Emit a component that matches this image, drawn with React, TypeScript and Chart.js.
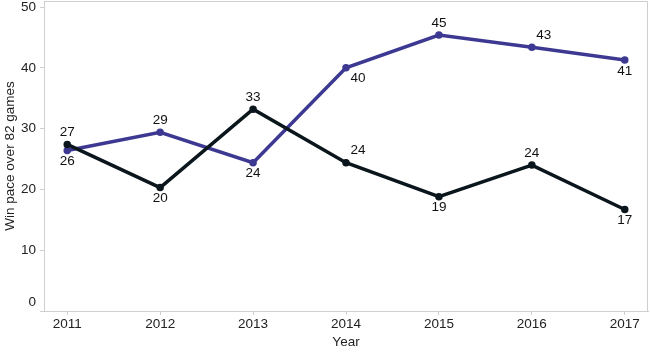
import React, { useEffect, useRef } from "react";
import { Chart, registerables } from "chart.js";

Chart.register(...registerables);

const years = [2011, 2012, 2013, 2014, 2015, 2016, 2017];
const blackSeries = [27.4, 20.3, 33.2, 24.4, 18.8, 24.0, 16.7];
const purpleSeries = [26.4, 29.4, 24.4, 40.0, 45.4, 43.4, 41.3];
const yTicks = [0, 10, 20, 30, 40, 50];

// label placement styles (not data)
const blackPlace = ["above", "below", "above", "aboveRight", "below", "above", "below"];
const purplePlace = ["below", "above", "below", "belowRight", "above", "aboveRight", "below"];

const FONT = "'Liberation Sans', Arial, sans-serif";

export default function App() {
  const ref = useRef<HTMLCanvasElement | null>(null);
  useEffect(() => {
    document.body.style.margin = "0";
    const canvas = ref.current!;
    const labelPlugin = {
      id: "labels",
      beforeDatasetsDraw(chart: any) {
        const { ctx, chartArea: a } = chart;
        ctx.save();
        ctx.strokeStyle = "#cfcfcf";
        ctx.lineWidth = 1;
        ctx.beginPath();
        ctx.moveTo(a.left, a.top + 0.5);
        ctx.lineTo(a.right - 0.5, a.top + 0.5);
        ctx.lineTo(a.right - 0.5, a.bottom);
        ctx.stroke();
        ctx.restore();
      },
      afterDatasetsDraw(chart: any) {
        const { ctx, chartArea: a } = chart;
        ctx.save();
        ctx.font = `13.5px ${FONT}`;
        ctx.fillStyle = "#111";
        ctx.textAlign = "center";
        ctx.textBaseline = "middle";
        const places = [blackPlace, purplePlace];
        chart.data.datasets.forEach((ds: any, di: number) => {
          const meta = chart.getDatasetMeta(di);
          meta.data.forEach((pt: any, i: number) => {
            const v = ds.data[i].y;
            const p = places[di][i];
            let dx = 0, dy = 0;
            if (p === "above") dy = -12;
            else if (p === "below") dy = 11;
            else if (p === "aboveRight") { dx = 12; dy = -12; }
            else if (p === "belowRight") { dx = 12; dy = 10; }
            ctx.fillText(String(Math.round(v)), pt.x + dx, pt.y + dy);
          });
        });
        // shifted bottom y tick label
        const ys = chart.scales.y;
        ctx.textAlign = "right";
        ctx.fillStyle = "#222";
        ctx.font = `13.5px ${FONT}`;
        ctx.fillText("0", ys.right - 8, a.bottom - 9);
        ctx.restore();
      },
    };
    const chart = new Chart(canvas, {
      type: "line",
      data: {
        datasets: [
          {
            label: "Black",
            data: years.map((x, i) => ({ x, y: blackSeries[i] })),
            borderColor: "#0b161c",
            backgroundColor: "#0b161c",
            borderWidth: 3.5,
            pointRadius: 2,
            pointHoverRadius: 2,
            tension: 0,
          },
          {
            label: "Purple",
            data: years.map((x, i) => ({ x, y: purpleSeries[i] })),
            borderColor: "#3d3992",
            backgroundColor: "#3d3992",
            borderWidth: 3.5,
            pointRadius: 2,
            pointHoverRadius: 2,
            tension: 0,
          },
        ],
      },
      options: {
        animation: false,
        responsive: false,
        maintainAspectRatio: false,
        layout: { autoPadding: false, padding: { top: 1, right: 2, left: 0, bottom: 0 } },
        plugins: { legend: { display: false }, tooltip: { enabled: false } },
        scales: {
          x: {
            type: "linear",
            min: 2010.75,
            max: 2017.25,
            afterBuildTicks: (s: any) => {
              s.ticks = years.map((v) => ({ value: v }));
            },
            afterFit: (s: any) => {
              s.height = 42;
              s.paddingLeft = 0;
              s.paddingRight = 0;
            },
            grid: { drawOnChartArea: false, drawTicks: true, tickLength: 4, color: "#cfcfcf" },
            border: { color: "#cfcfcf" },
            ticks: {
              color: "#222",
              font: { family: FONT, size: 13.5 },
              padding: 1,
              maxRotation: 0,
              callback: (v: any) => String(v),
            },
            title: {
              display: true,
              text: "Year",
              color: "#222",
              font: { family: FONT, size: 13.5 },
              padding: { top: 0, bottom: 3 },
            },
          },
          y: {
            min: 0,
            max: 51,
            afterBuildTicks: (s: any) => {
              s.ticks = yTicks.map((v) => ({ value: v }));
            },
            afterFit: (s: any) => {
              s.width = 44;
              s.paddingTop = 0;
              s.paddingBottom = 0;
            },
            grid: { drawOnChartArea: false, drawTicks: true, tickLength: 4, color: "#cfcfcf" },
            border: { color: "#cfcfcf" },
            ticks: {
              color: "#222",
              font: { family: FONT, size: 13.5 },
              padding: 4,
              callback: (v: any) => (v === 0 ? "" : String(v)),
            },
            title: {
              display: true,
              text: "Win pace over 82 games",
              color: "#222",
              font: { family: FONT, size: 13.5 },
              padding: { top: 2, bottom: 0 },
            },
          },
        },
      },
      plugins: [labelPlugin],
    });
    return () => chart.destroy();
  }, []);
  return (
    <div style={{ width: 650, height: 353 }}>
      <canvas ref={ref} width={650} height={353} style={{ display: "block" }} />
    </div>
  );
}
